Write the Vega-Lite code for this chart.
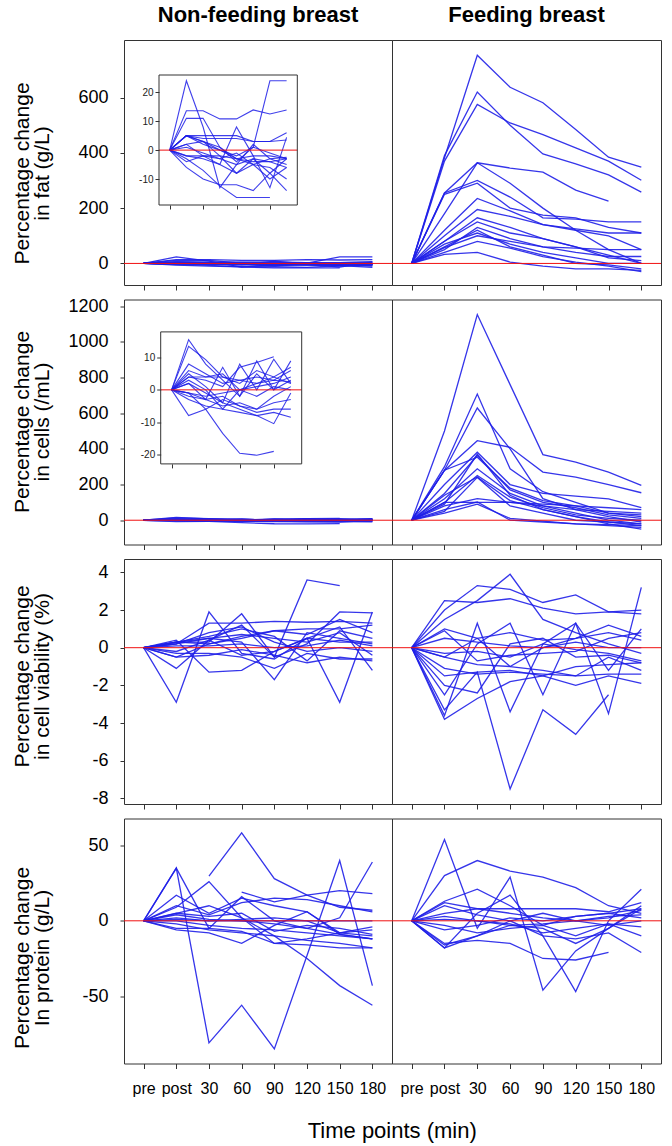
{
"$schema": "https://vega.github.io/schema/vega-lite/v6.json",
"background": "white",
"padding": {"left": 10, "top": 3, "right": 5, "bottom": 3},
"config": {"font": "Liberation Sans", "view": {"stroke": "#333333", "strokeWidth": 1}, "axis": {"labelFont": "Liberation Sans", "titleFont": "Liberation Sans", "labelColor": "#000000", "titleColor": "#000000", "tickColor": "#333333", "grid": false, "labelFlush": false, "labelOverlap": false}},
"title": {"text": "Time points (min)", "orient": "bottom", "anchor": "middle", "fontSize": 22, "fontWeight": "normal", "font": "Liberation Sans", "color": "#000000", "baseline": "alphabetic", "offset": 41, "dx": 56},
"bounds": "flush",
"columns": 2,
"spacing": {"row": 14.5, "column": 0},
"datasets": {
"fatN": [
{"s":1,"t":0,"v":0},{"s":1,"t":1,"v":24},{"s":1,"t":2,"v":8},{"s":1,"t":3,"v":-13},{"s":1,"t":4,"v":-5},{"s":1,"t":5,"v":2},{"s":1,"t":6,"v":-3},{"s":1,"t":7,"v":-5},
{"s":2,"t":0,"v":0},{"s":2,"t":1,"v":5},{"s":2,"t":2,"v":3},{"s":2,"t":3,"v":1},{"s":2,"t":4,"v":-4},{"s":2,"t":5,"v":1},{"s":2,"t":6,"v":24},{"s":2,"t":7,"v":24},
{"s":3,"t":0,"v":0},{"s":3,"t":1,"v":13.6},{"s":3,"t":2,"v":13.6},{"s":3,"t":3,"v":10.8},{"s":3,"t":4,"v":10.8},{"s":3,"t":5,"v":13.9},{"s":3,"t":6,"v":12.5},{"s":3,"t":7,"v":13.9},
{"s":4,"t":0,"v":0},{"s":4,"t":1,"v":11},{"s":4,"t":2,"v":11},{"s":4,"t":3,"v":1},{"s":4,"t":4,"v":-3},{"s":4,"t":5,"v":-5},{"s":4,"t":6,"v":-6},{"s":4,"t":7,"v":-10},
{"s":5,"t":0,"v":0},{"s":5,"t":1,"v":5},{"s":5,"t":2,"v":5},{"s":5,"t":3,"v":5},{"s":5,"t":4,"v":5},{"s":5,"t":5,"v":3},{"s":5,"t":6,"v":3},{"s":5,"t":7,"v":6},
{"s":6,"t":0,"v":0},{"s":6,"t":1,"v":5},{"s":6,"t":2,"v":4},{"s":6,"t":3,"v":4},{"s":6,"t":4,"v":4},{"s":6,"t":5,"v":3},{"s":6,"t":6,"v":3},{"s":6,"t":7,"v":3.5},
{"s":7,"t":0,"v":0},{"s":7,"t":1,"v":5},{"s":7,"t":2,"v":2},{"s":7,"t":3,"v":0},{"s":7,"t":4,"v":-3},{"s":7,"t":5,"v":-2},{"s":7,"t":6,"v":-2},{"s":7,"t":7,"v":-3},
{"s":8,"t":0,"v":0},{"s":8,"t":1,"v":5},{"s":8,"t":2,"v":3},{"s":8,"t":3,"v":-2},{"s":8,"t":4,"v":-8},{"s":8,"t":5,"v":-5},{"s":8,"t":6,"v":-3},{"s":8,"t":7,"v":-2.5},
{"s":9,"t":0,"v":0},{"s":9,"t":1,"v":2},{"s":9,"t":2,"v":-2},{"s":9,"t":3,"v":-5},{"s":9,"t":4,"v":8},{"s":9,"t":5,"v":-2},{"s":9,"t":6,"v":-13},{"s":9,"t":7,"v":4.4},
{"s":10,"t":0,"v":0},{"s":10,"t":1,"v":-3},{"s":10,"t":2,"v":-7},{"s":10,"t":3,"v":-12.4},{"s":10,"t":4,"v":-16.4},{"s":10,"t":5,"v":-16.4},{"s":10,"t":6,"v":-16.4},
{"s":11,"t":0,"v":0},{"s":11,"t":1,"v":-6},{"s":11,"t":2,"v":-10},{"s":11,"t":3,"v":-12},{"s":11,"t":4,"v":-12},{"s":11,"t":5,"v":-14},{"s":11,"t":6,"v":-8},{"s":11,"t":7,"v":-3},
{"s":12,"t":0,"v":0},{"s":12,"t":1,"v":-2},{"s":12,"t":2,"v":-3},{"s":12,"t":3,"v":-5},{"s":12,"t":4,"v":-8},{"s":12,"t":5,"v":-3},{"s":12,"t":6,"v":-8},{"s":12,"t":7,"v":-14},
{"s":13,"t":0,"v":0},{"s":13,"t":1,"v":-2},{"s":13,"t":2,"v":-2},{"s":13,"t":3,"v":-2},{"s":13,"t":4,"v":-3},{"s":13,"t":5,"v":-4},{"s":13,"t":6,"v":-4},{"s":13,"t":7,"v":-3},
{"s":14,"t":0,"v":0},{"s":14,"t":1,"v":1},{"s":14,"t":2,"v":-1},{"s":14,"t":3,"v":-3},{"s":14,"t":4,"v":-5},{"s":14,"t":5,"v":-3},{"s":14,"t":6,"v":-4},{"s":14,"t":7,"v":-6},
{"s":15,"t":0,"v":0},{"s":15,"t":1,"v":-4},{"s":15,"t":2,"v":-2},{"s":15,"t":3,"v":-3},{"s":15,"t":4,"v":-1},{"s":15,"t":5,"v":-5},{"s":15,"t":6,"v":-10},{"s":15,"t":7,"v":-6},
{"s":16,"t":0,"v":0},{"s":16,"t":1,"v":2},{"s":16,"t":2,"v":3},{"s":16,"t":3,"v":0},{"s":16,"t":4,"v":-2},{"s":16,"t":5,"v":1},{"s":16,"t":6,"v":-1},{"s":16,"t":7,"v":-3}
],
"fatF": [
{"s":1,"t":0,"v":0},{"s":1,"t":1,"v":382},{"s":1,"t":2,"v":753},{"s":1,"t":3,"v":637},{"s":1,"t":4,"v":581},{"s":1,"t":5,"v":484},{"s":1,"t":6,"v":384},{"s":1,"t":7,"v":348},
{"s":2,"t":0,"v":0},{"s":2,"t":1,"v":390},{"s":2,"t":2,"v":620},{"s":2,"t":3,"v":500},{"s":2,"t":4,"v":396},{"s":2,"t":5,"v":360},{"s":2,"t":6,"v":320},{"s":2,"t":7,"v":258},
{"s":3,"t":0,"v":0},{"s":3,"t":1,"v":370},{"s":3,"t":2,"v":575},{"s":3,"t":3,"v":508},{"s":3,"t":4,"v":466},{"s":3,"t":5,"v":418},{"s":3,"t":6,"v":370},{"s":3,"t":7,"v":301},
{"s":4,"t":0,"v":0},{"s":4,"t":1,"v":255},{"s":4,"t":2,"v":364},{"s":4,"t":3,"v":345},{"s":4,"t":4,"v":330},{"s":4,"t":5,"v":265},{"s":4,"t":6,"v":225},
{"s":5,"t":0,"v":0},{"s":5,"t":1,"v":180},{"s":5,"t":2,"v":364},{"s":5,"t":3,"v":290},{"s":5,"t":4,"v":200},{"s":5,"t":5,"v":120},{"s":5,"t":6,"v":50},{"s":5,"t":7,"v":0},
{"s":6,"t":0,"v":0},{"s":6,"t":1,"v":255},{"s":6,"t":2,"v":300},{"s":6,"t":3,"v":240},{"s":6,"t":4,"v":165},{"s":6,"t":5,"v":160},{"s":6,"t":6,"v":150},{"s":6,"t":7,"v":150},
{"s":7,"t":0,"v":0},{"s":7,"t":1,"v":250},{"s":7,"t":2,"v":290},{"s":7,"t":3,"v":200},{"s":7,"t":4,"v":175},{"s":7,"t":5,"v":165},{"s":7,"t":6,"v":130},{"s":7,"t":7,"v":110},
{"s":8,"t":0,"v":0},{"s":8,"t":1,"v":120},{"s":8,"t":2,"v":235},{"s":8,"t":3,"v":190},{"s":8,"t":4,"v":140},{"s":8,"t":5,"v":120},{"s":8,"t":6,"v":100},{"s":8,"t":7,"v":50},
{"s":9,"t":0,"v":0},{"s":9,"t":1,"v":100},{"s":9,"t":2,"v":195},{"s":9,"t":3,"v":170},{"s":9,"t":4,"v":140},{"s":9,"t":5,"v":125},{"s":9,"t":6,"v":110},{"s":9,"t":7,"v":110},
{"s":10,"t":0,"v":0},{"s":10,"t":1,"v":80},{"s":10,"t":2,"v":165},{"s":10,"t":3,"v":130},{"s":10,"t":4,"v":90},{"s":10,"t":5,"v":60},{"s":10,"t":6,"v":20},{"s":10,"t":7,"v":10},
{"s":11,"t":0,"v":0},{"s":11,"t":1,"v":80},{"s":11,"t":2,"v":150},{"s":11,"t":3,"v":110},{"s":11,"t":4,"v":90},{"s":11,"t":5,"v":60},{"s":11,"t":6,"v":30},{"s":11,"t":7,"v":0},
{"s":12,"t":0,"v":0},{"s":12,"t":1,"v":60},{"s":12,"t":2,"v":120},{"s":12,"t":3,"v":60},{"s":12,"t":4,"v":30},{"s":12,"t":5,"v":0},{"s":12,"t":6,"v":-5},{"s":12,"t":7,"v":-20},
{"s":13,"t":0,"v":0},{"s":13,"t":1,"v":70},{"s":13,"t":2,"v":110},{"s":13,"t":3,"v":70},{"s":13,"t":4,"v":40},{"s":13,"t":5,"v":20},{"s":13,"t":6,"v":0},{"s":13,"t":7,"v":0},
{"s":14,"t":0,"v":0},{"s":14,"t":1,"v":57},{"s":14,"t":2,"v":100},{"s":14,"t":3,"v":80},{"s":14,"t":4,"v":60},{"s":14,"t":5,"v":55},{"s":14,"t":6,"v":50},{"s":14,"t":7,"v":50},
{"s":15,"t":0,"v":0},{"s":15,"t":1,"v":40},{"s":15,"t":2,"v":80},{"s":15,"t":3,"v":55},{"s":15,"t":4,"v":25},{"s":15,"t":5,"v":5},{"s":15,"t":6,"v":-10},{"s":15,"t":7,"v":-30},
{"s":16,"t":0,"v":0},{"s":16,"t":1,"v":33},{"s":16,"t":2,"v":40},{"s":16,"t":3,"v":5},{"s":16,"t":4,"v":-10},{"s":16,"t":5,"v":-20},{"s":16,"t":6,"v":-20},{"s":16,"t":7,"v":-25},
{"s":17,"t":0,"v":0},{"s":17,"t":1,"v":50},{"s":17,"t":2,"v":130},{"s":17,"t":3,"v":90},{"s":17,"t":4,"v":60},{"s":17,"t":5,"v":40},{"s":17,"t":6,"v":25},{"s":17,"t":7,"v":25}
],
"celN": [
{"s":1,"t":0,"v":0},{"s":1,"t":1,"v":15.6},{"s":1,"t":2,"v":8},{"s":1,"t":3,"v":3},{"s":1,"t":4,"v":-2},{"s":1,"t":5,"v":5},{"s":1,"t":6,"v":0},{"s":1,"t":7,"v":3},
{"s":2,"t":0,"v":0},{"s":2,"t":1,"v":13.5},{"s":2,"t":2,"v":9.4},{"s":2,"t":3,"v":4},{"s":2,"t":4,"v":2},{"s":2,"t":5,"v":6},{"s":2,"t":6,"v":4},{"s":2,"t":7,"v":7},
{"s":3,"t":0,"v":0},{"s":3,"t":1,"v":-1},{"s":3,"t":2,"v":-6},{"s":3,"t":3,"v":-13.5},{"s":3,"t":4,"v":-19.7},{"s":3,"t":5,"v":-20.3},{"s":3,"t":6,"v":-19.1},
{"s":4,"t":0,"v":0},{"s":4,"t":1,"v":4},{"s":4,"t":2,"v":3},{"s":4,"t":3,"v":1},{"s":4,"t":4,"v":7},{"s":4,"t":5,"v":8.5},{"s":4,"t":6,"v":10.3},
{"s":5,"t":0,"v":0},{"s":5,"t":1,"v":5},{"s":5,"t":2,"v":1},{"s":5,"t":3,"v":-4},{"s":5,"t":4,"v":8},{"s":5,"t":5,"v":0},{"s":5,"t":6,"v":9.5},{"s":5,"t":7,"v":2},
{"s":6,"t":0,"v":0},{"s":6,"t":1,"v":2},{"s":6,"t":2,"v":-3},{"s":6,"t":3,"v":7},{"s":6,"t":4,"v":-2},{"s":6,"t":5,"v":9},{"s":6,"t":6,"v":0},{"s":6,"t":7,"v":9},
{"s":7,"t":0,"v":0},{"s":7,"t":1,"v":8},{"s":7,"t":2,"v":5},{"s":7,"t":3,"v":2},{"s":7,"t":4,"v":3},{"s":7,"t":5,"v":4},{"s":7,"t":6,"v":3},{"s":7,"t":7,"v":6},
{"s":8,"t":0,"v":0},{"s":8,"t":1,"v":4},{"s":8,"t":2,"v":4},{"s":8,"t":3,"v":4},{"s":8,"t":4,"v":3},{"s":8,"t":5,"v":2},{"s":8,"t":6,"v":4},{"s":8,"t":7,"v":2},
{"s":9,"t":0,"v":0},{"s":9,"t":1,"v":-1},{"s":9,"t":2,"v":-2},{"s":9,"t":3,"v":-1},{"s":9,"t":4,"v":0},{"s":9,"t":5,"v":-2},{"s":9,"t":6,"v":1},{"s":9,"t":7,"v":0},
{"s":10,"t":0,"v":0},{"s":10,"t":1,"v":-2},{"s":10,"t":2,"v":-3},{"s":10,"t":3,"v":-5},{"s":10,"t":4,"v":-4},{"s":10,"t":5,"v":-6},{"s":10,"t":6,"v":-2},{"s":10,"t":7,"v":1},
{"s":11,"t":0,"v":0},{"s":11,"t":1,"v":-8},{"s":11,"t":2,"v":-6},{"s":11,"t":3,"v":-3},{"s":11,"t":4,"v":-5},{"s":11,"t":5,"v":-7},{"s":11,"t":6,"v":-6},{"s":11,"t":7,"v":-6},
{"s":12,"t":0,"v":0},{"s":12,"t":1,"v":-3},{"s":12,"t":2,"v":-5},{"s":12,"t":3,"v":-6},{"s":12,"t":4,"v":-7},{"s":12,"t":5,"v":-8},{"s":12,"t":6,"v":-7},{"s":12,"t":7,"v":-8.5},
{"s":13,"t":0,"v":0},{"s":13,"t":1,"v":2},{"s":13,"t":2,"v":-1},{"s":13,"t":3,"v":-4},{"s":13,"t":4,"v":-6},{"s":13,"t":5,"v":-8},{"s":13,"t":6,"v":-10.5},{"s":13,"t":7,"v":-1},
{"s":14,"t":0,"v":0},{"s":14,"t":1,"v":-1},{"s":14,"t":2,"v":-3},{"s":14,"t":3,"v":-2},{"s":14,"t":4,"v":-5},{"s":14,"t":5,"v":-6},{"s":14,"t":6,"v":-4},{"s":14,"t":7,"v":-3},
{"s":15,"t":0,"v":0},{"s":15,"t":1,"v":6},{"s":15,"t":2,"v":4},{"s":15,"t":3,"v":5},{"s":15,"t":4,"v":0},{"s":15,"t":5,"v":2},{"s":15,"t":6,"v":3},{"s":15,"t":7,"v":2.5},
{"s":16,"t":0,"v":0},{"s":16,"t":1,"v":3},{"s":16,"t":2,"v":0},{"s":16,"t":3,"v":-6},{"s":16,"t":4,"v":0},{"s":16,"t":5,"v":1},{"s":16,"t":6,"v":2},{"s":16,"t":7,"v":4}
],
"celF": [
{"s":1,"t":0,"v":0},{"s":1,"t":1,"v":500},{"s":1,"t":2,"v":1153},{"s":1,"t":3,"v":760},{"s":1,"t":4,"v":368},{"s":1,"t":5,"v":325},{"s":1,"t":6,"v":270},{"s":1,"t":7,"v":195},
{"s":2,"t":0,"v":0},{"s":2,"t":1,"v":300},{"s":2,"t":2,"v":707},{"s":2,"t":3,"v":288},{"s":2,"t":4,"v":160},{"s":2,"t":5,"v":100},{"s":2,"t":6,"v":40},{"s":2,"t":7,"v":20},
{"s":3,"t":0,"v":0},{"s":3,"t":1,"v":280},{"s":3,"t":2,"v":629},{"s":3,"t":3,"v":400},{"s":3,"t":4,"v":121},{"s":3,"t":5,"v":60},{"s":3,"t":6,"v":20},{"s":3,"t":7,"v":-10},
{"s":4,"t":0,"v":0},{"s":4,"t":1,"v":279},{"s":4,"t":2,"v":446},{"s":4,"t":3,"v":409},{"s":4,"t":4,"v":270},{"s":4,"t":5,"v":242},{"s":4,"t":6,"v":200},{"s":4,"t":7,"v":154},
{"s":5,"t":0,"v":0},{"s":5,"t":1,"v":200},{"s":5,"t":2,"v":381},{"s":5,"t":3,"v":200},{"s":5,"t":4,"v":150},{"s":5,"t":5,"v":135},{"s":5,"t":6,"v":120},{"s":5,"t":7,"v":70},
{"s":6,"t":0,"v":0},{"s":6,"t":1,"v":150},{"s":6,"t":2,"v":363},{"s":6,"t":3,"v":170},{"s":6,"t":4,"v":100},{"s":6,"t":5,"v":70},{"s":6,"t":6,"v":30},{"s":6,"t":7,"v":10},
{"s":7,"t":0,"v":0},{"s":7,"t":1,"v":280},{"s":7,"t":2,"v":353},{"s":7,"t":3,"v":180},{"s":7,"t":4,"v":110},{"s":7,"t":5,"v":80},{"s":7,"t":6,"v":40},{"s":7,"t":7,"v":30},
{"s":8,"t":0,"v":0},{"s":8,"t":1,"v":120},{"s":8,"t":2,"v":288},{"s":8,"t":3,"v":150},{"s":8,"t":4,"v":80},{"s":8,"t":5,"v":40},{"s":8,"t":6,"v":0},{"s":8,"t":7,"v":-20},
{"s":9,"t":0,"v":0},{"s":9,"t":1,"v":100},{"s":9,"t":2,"v":251},{"s":9,"t":3,"v":130},{"s":9,"t":4,"v":70},{"s":9,"t":5,"v":30},{"s":9,"t":6,"v":10},{"s":9,"t":7,"v":0},
{"s":10,"t":0,"v":0},{"s":10,"t":1,"v":140},{"s":10,"t":2,"v":242},{"s":10,"t":3,"v":110},{"s":10,"t":4,"v":60},{"s":10,"t":5,"v":20},{"s":10,"t":6,"v":-10},{"s":10,"t":7,"v":-20},
{"s":11,"t":0,"v":0},{"s":11,"t":1,"v":80},{"s":11,"t":2,"v":121},{"s":11,"t":3,"v":100},{"s":11,"t":4,"v":80},{"s":11,"t":5,"v":60},{"s":11,"t":6,"v":50},{"s":11,"t":7,"v":40},
{"s":12,"t":0,"v":0},{"s":12,"t":1,"v":60},{"s":12,"t":2,"v":102},{"s":12,"t":3,"v":0},{"s":12,"t":4,"v":-10},{"s":12,"t":5,"v":-20},{"s":12,"t":6,"v":-30},{"s":12,"t":7,"v":-40},
{"s":13,"t":0,"v":0},{"s":13,"t":1,"v":100},{"s":13,"t":2,"v":100},{"s":13,"t":3,"v":100},{"s":13,"t":4,"v":90},{"s":13,"t":5,"v":80},{"s":13,"t":6,"v":70},{"s":13,"t":7,"v":60},
{"s":14,"t":0,"v":0},{"s":14,"t":1,"v":50},{"s":14,"t":2,"v":240},{"s":14,"t":3,"v":80},{"s":14,"t":4,"v":40},{"s":14,"t":5,"v":0},{"s":14,"t":6,"v":-10},{"s":14,"t":7,"v":-30},
{"s":15,"t":0,"v":0},{"s":15,"t":1,"v":90},{"s":15,"t":2,"v":370},{"s":15,"t":3,"v":140},{"s":15,"t":4,"v":60},{"s":15,"t":5,"v":20},{"s":15,"t":6,"v":-20},{"s":15,"t":7,"v":-50},
{"s":16,"t":0,"v":0},{"s":16,"t":1,"v":40},{"s":16,"t":2,"v":90},{"s":16,"t":3,"v":10},{"s":16,"t":4,"v":-5},{"s":16,"t":5,"v":-20},{"s":16,"t":6,"v":-25},{"s":16,"t":7,"v":-30}
],
"viaN": [
{"s":1,"t":0,"v":0},{"s":1,"t":1,"v":-2.9},{"s":1,"t":2,"v":1.9},{"s":1,"t":3,"v":-0.3},{"s":1,"t":4,"v":-0.6},{"s":1,"t":5,"v":0.5},{"s":1,"t":6,"v":-2.9},{"s":1,"t":7,"v":1.9},
{"s":2,"t":0,"v":0},{"s":2,"t":1,"v":0.3},{"s":2,"t":2,"v":0.3},{"s":2,"t":3,"v":1.8},{"s":2,"t":4,"v":-0.5},{"s":2,"t":5,"v":3.6},{"s":2,"t":6,"v":3.3},
{"s":3,"t":0,"v":0},{"s":3,"t":1,"v":-1.1},{"s":3,"t":2,"v":0.4},{"s":3,"t":3,"v":1.2},{"s":3,"t":4,"v":-0.5},{"s":3,"t":5,"v":0.2},{"s":3,"t":6,"v":1.9},{"s":3,"t":7,"v":1.85},
{"s":4,"t":0,"v":0},{"s":4,"t":1,"v":0.4},{"s":4,"t":2,"v":-1.3},{"s":4,"t":3,"v":-1.2},{"s":4,"t":4,"v":-0.2},{"s":4,"t":5,"v":0.5},{"s":4,"t":6,"v":1.1},{"s":4,"t":7,"v":-1.2},
{"s":5,"t":0,"v":0},{"s":5,"t":1,"v":0.2},{"s":5,"t":2,"v":1.3},{"s":5,"t":3,"v":1.3},{"s":5,"t":4,"v":1.4},{"s":5,"t":5,"v":1.35},{"s":5,"t":6,"v":1.4},{"s":5,"t":7,"v":1.3},
{"s":6,"t":0,"v":0},{"s":6,"t":1,"v":0.3},{"s":6,"t":2,"v":0.6},{"s":6,"t":3,"v":1.0},{"s":6,"t":4,"v":0.6},{"s":6,"t":5,"v":-0.7},{"s":6,"t":6,"v":0.9},{"s":6,"t":7,"v":0.5},
{"s":7,"t":0,"v":0},{"s":7,"t":1,"v":0.2},{"s":7,"t":2,"v":0.5},{"s":7,"t":3,"v":0.3},{"s":7,"t":4,"v":-1.7},{"s":7,"t":5,"v":0.8},{"s":7,"t":6,"v":0.5},{"s":7,"t":7,"v":0.2},
{"s":8,"t":0,"v":0},{"s":8,"t":1,"v":-0.5},{"s":8,"t":2,"v":0.2},{"s":8,"t":3,"v":0.5},{"s":8,"t":4,"v":0.9},{"s":8,"t":5,"v":0.7},{"s":8,"t":6,"v":1.5},{"s":8,"t":7,"v":0.8},
{"s":9,"t":0,"v":0},{"s":9,"t":1,"v":-0.3},{"s":9,"t":2,"v":-0.3},{"s":9,"t":3,"v":-0.5},{"s":9,"t":4,"v":-1.1},{"s":9,"t":5,"v":-0.3},{"s":9,"t":6,"v":-0.6},{"s":9,"t":7,"v":-0.6},
{"s":10,"t":0,"v":0},{"s":10,"t":1,"v":0.1},{"s":10,"t":2,"v":0.1},{"s":10,"t":3,"v":0.2},{"s":10,"t":4,"v":0},{"s":10,"t":5,"v":0.1},{"s":10,"t":6,"v":0.4},{"s":10,"t":7,"v":0.1},
{"s":11,"t":0,"v":0},{"s":11,"t":1,"v":-0.2},{"s":11,"t":2,"v":0.4},{"s":11,"t":3,"v":-0.4},{"s":11,"t":4,"v":-0.2},{"s":11,"t":5,"v":0.5},{"s":11,"t":6,"v":0.3},{"s":11,"t":7,"v":0.3},
{"s":12,"t":0,"v":0},{"s":12,"t":1,"v":0.3},{"s":12,"t":2,"v":0.5},{"s":12,"t":3,"v":0.7},{"s":12,"t":4,"v":0.5},{"s":12,"t":5,"v":0.3},{"s":12,"t":6,"v":0.8},{"s":12,"t":7,"v":-0.4},
{"s":13,"t":0,"v":0},{"s":13,"t":1,"v":-0.5},{"s":13,"t":2,"v":-0.4},{"s":13,"t":3,"v":-0.1},{"s":13,"t":4,"v":-0.4},{"s":13,"t":5,"v":-0.8},{"s":13,"t":6,"v":-0.5},{"s":13,"t":7,"v":-0.7},
{"s":14,"t":0,"v":0},{"s":14,"t":1,"v":0.2},{"s":14,"t":2,"v":0.8},{"s":14,"t":3,"v":1.1},{"s":14,"t":4,"v":0.3},{"s":14,"t":5,"v":-0.2},{"s":14,"t":6,"v":0},{"s":14,"t":7,"v":-0.2},
{"s":15,"t":0,"v":0},{"s":15,"t":1,"v":0.3},{"s":15,"t":2,"v":0.2},{"s":15,"t":3,"v":0.6},{"s":15,"t":4,"v":0.9},{"s":15,"t":5,"v":1.0},{"s":15,"t":6,"v":1.0},{"s":15,"t":7,"v":1.2}
],
"viaF": [
{"s":1,"t":0,"v":0},{"s":1,"t":1,"v":1.5},{"s":1,"t":2,"v":2.5},{"s":1,"t":3,"v":3.9},{"s":1,"t":4,"v":1.5},{"s":1,"t":5,"v":0.8},{"s":1,"t":6,"v":0.2},{"s":1,"t":7,"v":-0.3},
{"s":2,"t":0,"v":0},{"s":2,"t":1,"v":2.0},{"s":2,"t":2,"v":3.3},{"s":2,"t":3,"v":3.1},{"s":2,"t":4,"v":2.4},{"s":2,"t":5,"v":2.8},{"s":2,"t":6,"v":1.9},{"s":2,"t":7,"v":2.0},
{"s":3,"t":0,"v":0},{"s":3,"t":1,"v":2.5},{"s":3,"t":2,"v":2.4},{"s":3,"t":3,"v":2.6},{"s":3,"t":4,"v":2.1},{"s":3,"t":5,"v":1.8},{"s":3,"t":6,"v":1.9},{"s":3,"t":7,"v":1.8},
{"s":4,"t":0,"v":0},{"s":4,"t":1,"v":-3.6},{"s":4,"t":2,"v":1.3},{"s":4,"t":3,"v":-3.4},{"s":4,"t":4,"v":0.2},{"s":4,"t":5,"v":1.3},{"s":4,"t":6,"v":-3.5},{"s":4,"t":7,"v":3.2},
{"s":5,"t":0,"v":0},{"s":5,"t":1,"v":-3.3},{"s":5,"t":2,"v":-1.3},{"s":5,"t":3,"v":-7.5},{"s":5,"t":4,"v":-3.3},{"s":5,"t":5,"v":-4.6},{"s":5,"t":6,"v":-2.5},
{"s":6,"t":0,"v":0},{"s":6,"t":1,"v":-2.5},{"s":6,"t":2,"v":0.2},{"s":6,"t":3,"v":1.3},{"s":6,"t":4,"v":-2.5},{"s":6,"t":5,"v":1.3},{"s":6,"t":6,"v":-1.2},{"s":6,"t":7,"v":1.0},
{"s":7,"t":0,"v":0},{"s":7,"t":1,"v":1.0},{"s":7,"t":2,"v":0.5},{"s":7,"t":3,"v":-1.0},{"s":7,"t":4,"v":0},{"s":7,"t":5,"v":0.5},{"s":7,"t":6,"v":1.2},{"s":7,"t":7,"v":0.6},
{"s":8,"t":0,"v":0},{"s":8,"t":1,"v":-1.5},{"s":8,"t":2,"v":-1.3},{"s":8,"t":3,"v":-1.2},{"s":8,"t":4,"v":-1.5},{"s":8,"t":5,"v":-2.0},{"s":8,"t":6,"v":-1.5},{"s":8,"t":7,"v":-1.9},
{"s":9,"t":0,"v":0},{"s":9,"t":1,"v":-0.5},{"s":9,"t":2,"v":-0.9},{"s":9,"t":3,"v":-1.0},{"s":9,"t":4,"v":-1.2},{"s":9,"t":5,"v":-1.5},{"s":9,"t":6,"v":-1.4},{"s":9,"t":7,"v":-1.4},
{"s":10,"t":0,"v":0},{"s":10,"t":1,"v":-1.1},{"s":10,"t":2,"v":-1.4},{"s":10,"t":3,"v":-1.3},{"s":10,"t":4,"v":-1.4},{"s":10,"t":5,"v":-1.5},{"s":10,"t":6,"v":-0.5},{"s":10,"t":7,"v":-1.2},
{"s":11,"t":0,"v":0},{"s":11,"t":1,"v":0.5},{"s":11,"t":2,"v":0.3},{"s":11,"t":3,"v":0.1},{"s":11,"t":4,"v":0},{"s":11,"t":5,"v":0.3},{"s":11,"t":6,"v":0},{"s":11,"t":7,"v":0},
{"s":12,"t":0,"v":0},{"s":12,"t":1,"v":-2.0},{"s":12,"t":2,"v":-2.4},{"s":12,"t":3,"v":0.2},{"s":12,"t":4,"v":0.5},{"s":12,"t":5,"v":-0.5},{"s":12,"t":6,"v":-0.4},{"s":12,"t":7,"v":-0.8},
{"s":13,"t":0,"v":0},{"s":13,"t":1,"v":-0.5},{"s":13,"t":2,"v":0.5},{"s":13,"t":3,"v":0.8},{"s":13,"t":4,"v":0.4},{"s":13,"t":5,"v":0.5},{"s":13,"t":6,"v":0.8},{"s":13,"t":7,"v":0.4},
{"s":14,"t":0,"v":0},{"s":14,"t":1,"v":0.9},{"s":14,"t":2,"v":-0.7},{"s":14,"t":3,"v":-0.4},{"s":14,"t":4,"v":-0.3},{"s":14,"t":5,"v":-0.2},{"s":14,"t":6,"v":0.5},{"s":14,"t":7,"v":0.8},
{"s":15,"t":0,"v":0},{"s":15,"t":1,"v":-0.3},{"s":15,"t":2,"v":-0.2},{"s":15,"t":3,"v":-0.5},{"s":15,"t":4,"v":0.2},{"s":15,"t":5,"v":-0.1},{"s":15,"t":6,"v":-0.3},{"s":15,"t":7,"v":-0.7},
{"s":16,"t":0,"v":0},{"s":16,"t":1,"v":-3.8},{"s":16,"t":2,"v":-2.7},{"s":16,"t":3,"v":-1.8},{"s":16,"t":4,"v":-1.5},{"s":16,"t":5,"v":-1.0},{"s":16,"t":6,"v":-0.9},{"s":16,"t":7,"v":-0.8}
],
"proN": [
{"s":1,"t":0,"v":0},{"s":1,"t":1,"v":35},{"s":1,"t":2,"v":-81},{"s":1,"t":3,"v":-56},{"s":1,"t":4,"v":-85},{"s":1,"t":5,"v":-23},{"s":1,"t":6,"v":40},{"s":1,"t":7,"v":-43},
{"s":2,"t":0,"v":0},{"s":2,"t":1,"v":35},{"s":2,"t":2,"v":-5},{"s":2,"t":3,"v":16},{"s":2,"t":4,"v":0},{"s":2,"t":5,"v":-5},{"s":2,"t":6,"v":2},{"s":2,"t":7,"v":39},
{"s":3,"t":2,"v":29.6},{"s":3,"t":3,"v":58.4},{"s":3,"t":4,"v":28},{"s":3,"t":5,"v":17},{"s":3,"t":6,"v":9},{"s":3,"t":7,"v":7},
{"s":4,"t":0,"v":0},{"s":4,"t":1,"v":17},{"s":4,"t":2,"v":5},{"s":4,"t":3,"v":15},{"s":4,"t":4,"v":10},{"s":4,"t":5,"v":6},{"s":4,"t":6,"v":-8},{"s":4,"t":7,"v":-4},
{"s":5,"t":3,"v":19},{"s":5,"t":4,"v":12.6},{"s":5,"t":5,"v":17},{"s":5,"t":6,"v":20},{"s":5,"t":7,"v":18},
{"s":6,"t":0,"v":0},{"s":6,"t":1,"v":9},{"s":6,"t":2,"v":26},{"s":6,"t":3,"v":2},{"s":6,"t":4,"v":-15},{"s":6,"t":5,"v":-12},{"s":6,"t":6,"v":-8},{"s":6,"t":7,"v":-10},
{"s":7,"t":0,"v":0},{"s":7,"t":1,"v":-6},{"s":7,"t":2,"v":-8},{"s":7,"t":3,"v":-15},{"s":7,"t":4,"v":-3},{"s":7,"t":5,"v":6},{"s":7,"t":6,"v":-9},{"s":7,"t":7,"v":-12},
{"s":8,"t":0,"v":0},{"s":8,"t":1,"v":5},{"s":8,"t":2,"v":10},{"s":8,"t":3,"v":2},{"s":8,"t":4,"v":-10},{"s":8,"t":5,"v":-25},{"s":8,"t":6,"v":-43},{"s":8,"t":7,"v":-56},
{"s":9,"t":0,"v":0},{"s":9,"t":1,"v":2},{"s":9,"t":2,"v":0},{"s":9,"t":3,"v":1},{"s":9,"t":4,"v":2},{"s":9,"t":5,"v":0},{"s":9,"t":6,"v":-8},{"s":9,"t":7,"v":-6},
{"s":10,"t":0,"v":0},{"s":10,"t":1,"v":-2},{"s":10,"t":2,"v":-6},{"s":10,"t":3,"v":-8},{"s":10,"t":4,"v":-10},{"s":10,"t":5,"v":-13},{"s":10,"t":6,"v":-15},{"s":10,"t":7,"v":-18},
{"s":11,"t":0,"v":0},{"s":11,"t":1,"v":0},{"s":11,"t":2,"v":-3},{"s":11,"t":3,"v":-5},{"s":11,"t":4,"v":-6},{"s":11,"t":5,"v":-8},{"s":11,"t":6,"v":-10},{"s":11,"t":7,"v":-12},
{"s":12,"t":0,"v":0},{"s":12,"t":1,"v":4},{"s":12,"t":2,"v":1},{"s":12,"t":3,"v":0},{"s":12,"t":4,"v":-2},{"s":12,"t":5,"v":-5},{"s":12,"t":6,"v":-9},{"s":12,"t":7,"v":-12},
{"s":13,"t":0,"v":0},{"s":13,"t":1,"v":5},{"s":13,"t":2,"v":3},{"s":13,"t":3,"v":5},{"s":13,"t":4,"v":-7},{"s":13,"t":5,"v":-3},{"s":13,"t":6,"v":-5},{"s":13,"t":7,"v":-9},
{"s":14,"t":0,"v":0},{"s":14,"t":1,"v":-5},{"s":14,"t":2,"v":-5},{"s":14,"t":3,"v":-7},{"s":14,"t":4,"v":-15},{"s":14,"t":5,"v":-16},{"s":14,"t":6,"v":-18},{"s":14,"t":7,"v":-18},
{"s":15,"t":0,"v":0},{"s":15,"t":1,"v":1},{"s":15,"t":2,"v":0},{"s":15,"t":3,"v":0},{"s":15,"t":4,"v":0},{"s":15,"t":5,"v":0},{"s":15,"t":6,"v":0},{"s":15,"t":7,"v":0},
{"s":16,"t":0,"v":0},{"s":16,"t":1,"v":10},{"s":16,"t":2,"v":4},{"s":16,"t":3,"v":12},{"s":16,"t":4,"v":15},{"s":16,"t":5,"v":14},{"s":16,"t":6,"v":10},{"s":16,"t":7,"v":6}
],
"proF": [
{"s":1,"t":0,"v":0},{"s":1,"t":1,"v":54},{"s":1,"t":2,"v":-5},{"s":1,"t":3,"v":29},{"s":1,"t":4,"v":-46},{"s":1,"t":5,"v":-20},{"s":1,"t":6,"v":-5},{"s":1,"t":7,"v":10},
{"s":2,"t":0,"v":0},{"s":2,"t":1,"v":-18},{"s":2,"t":2,"v":5},{"s":2,"t":3,"v":17},{"s":2,"t":4,"v":-10},{"s":2,"t":5,"v":-47},{"s":2,"t":6,"v":0},{"s":2,"t":7,"v":21},
{"s":3,"t":0,"v":0},{"s":3,"t":1,"v":30},{"s":3,"t":2,"v":40},{"s":3,"t":3,"v":33},{"s":3,"t":4,"v":29},{"s":3,"t":5,"v":22},{"s":3,"t":6,"v":10},{"s":3,"t":7,"v":5},
{"s":4,"t":0,"v":0},{"s":4,"t":1,"v":13},{"s":4,"t":2,"v":21},{"s":4,"t":3,"v":10},{"s":4,"t":4,"v":-3},{"s":4,"t":5,"v":3},{"s":4,"t":6,"v":5},{"s":4,"t":7,"v":8},
{"s":5,"t":0,"v":0},{"s":5,"t":1,"v":-15},{"s":5,"t":2,"v":-13},{"s":5,"t":3,"v":-15},{"s":5,"t":4,"v":-25},{"s":5,"t":5,"v":-26},{"s":5,"t":6,"v":-21},
{"s":6,"t":0,"v":0},{"s":6,"t":1,"v":12},{"s":6,"t":2,"v":8},{"s":6,"t":3,"v":5},{"s":6,"t":4,"v":2},{"s":6,"t":5,"v":0},{"s":6,"t":6,"v":3},{"s":6,"t":7,"v":4},
{"s":7,"t":0,"v":0},{"s":7,"t":1,"v":-18},{"s":7,"t":2,"v":-10},{"s":7,"t":3,"v":0},{"s":7,"t":4,"v":-10},{"s":7,"t":5,"v":-12},{"s":7,"t":6,"v":-8},{"s":7,"t":7,"v":-21},
{"s":8,"t":0,"v":0},{"s":8,"t":1,"v":-16},{"s":8,"t":2,"v":-10},{"s":8,"t":3,"v":-3},{"s":8,"t":4,"v":-5},{"s":8,"t":5,"v":-15},{"s":8,"t":6,"v":-5},{"s":8,"t":7,"v":8},
{"s":9,"t":0,"v":0},{"s":9,"t":1,"v":5},{"s":9,"t":2,"v":8},{"s":9,"t":3,"v":8},{"s":9,"t":4,"v":8},{"s":9,"t":5,"v":8},{"s":9,"t":6,"v":6},{"s":9,"t":7,"v":12},
{"s":10,"t":0,"v":0},{"s":10,"t":1,"v":3},{"s":10,"t":2,"v":0},{"s":10,"t":3,"v":-3},{"s":10,"t":4,"v":-2},{"s":10,"t":5,"v":0},{"s":10,"t":6,"v":2},{"s":10,"t":7,"v":7},
{"s":11,"t":0,"v":0},{"s":11,"t":1,"v":-3},{"s":11,"t":2,"v":-8},{"s":11,"t":3,"v":-5},{"s":11,"t":4,"v":-3},{"s":11,"t":5,"v":-10},{"s":11,"t":6,"v":-2},{"s":11,"t":7,"v":-10},
{"s":12,"t":0,"v":0},{"s":12,"t":1,"v":10},{"s":12,"t":2,"v":4},{"s":12,"t":3,"v":0},{"s":12,"t":4,"v":5},{"s":12,"t":5,"v":0},{"s":12,"t":6,"v":-3},{"s":12,"t":7,"v":0},
{"s":13,"t":0,"v":0},{"s":13,"t":1,"v":1},{"s":13,"t":2,"v":0},{"s":13,"t":3,"v":-2},{"s":13,"t":4,"v":-8},{"s":13,"t":5,"v":-5},{"s":13,"t":6,"v":-2},{"s":13,"t":7,"v":-4},
{"s":14,"t":0,"v":0},{"s":14,"t":1,"v":-6},{"s":14,"t":2,"v":-3},{"s":14,"t":3,"v":2},{"s":14,"t":4,"v":0},{"s":14,"t":5,"v":3},{"s":14,"t":6,"v":5},{"s":14,"t":7,"v":2}
]
},
"concat": [
 {"width": 268, "height": 245,
  "title": {"text": "Non-feeding breast", "fontSize": 22, "fontWeight": "bold", "font": "Liberation Sans", "anchor": "middle", "frame": "group", "baseline": "alphabetic", "offset": 18, "dy": 22, "color": "#000000"},
  "layer": [
   {"layer": [
    {"data": {"name": "fatN"}, "mark": {"type": "line", "color": "#1f1fe8", "strokeWidth": 1.3, "opacity": 0.9},
     "encoding": {
      "x": {"field": "t", "type": "quantitative", "scale": {"domain": [-0.6, 7.6], "nice": false, "zero": false}, "axis": {"values": [0,1,2,3,4,5,6,7], "labels": false, "tickSize": 5, "domain": false, "title": null}},
      "y": {"field": "v", "type": "quantitative", "scale": {"domain": [-78, 808], "nice": false, "zero": false}, "axis": {"values": [0,200,400,600], "labelExpr": "datum.value + ''", "labelFontSize": 18, "tickSize": 4, "labelPadding": 12, "domain": false, "title": ["Percentage change", "in fat (g/L)"], "titleFontSize": 21, "titleFontWeight": "normal", "titleAngle": -90, "titleX": -102, "titleY": 133, "titleAlign": "center", "titleBaseline": "middle", "titleLineHeight": 20}},
      "detail": {"field": "s", "type": "nominal"}}},
    {"data": {"values": [{}]}, "mark": {"type": "rule", "color": "#f01010", "strokeWidth": 1}, "encoding": {"y": {"datum": 0}}}
   ]},
   {"layer": [
    {"data": {"name": "fatN"}, "mark": {"type": "line", "color": "#1f1fe8", "strokeWidth": 1.1, "opacity": 0.85},
     "encoding": {
      "x": {"field": "t", "type": "quantitative", "scale": {"domain": [-0.64, 7.64], "range": [35, 173.3], "nice": false, "zero": false}, "axis": {"orient": "bottom", "offset": -80, "values": [0,1,2,3,4,5,6,7], "labels": false, "tickSize": 4, "domain": false, "title": null}},
      "y": {"field": "v", "type": "quantitative", "scale": {"domain": [-19, 26], "range": [165, 35], "nice": false, "zero": false}, "axis": {"orient": "left", "offset": -35, "values": [-10,0,10,20], "labelExpr": "datum.value + ''", "labelFontSize": 10, "labelColor": "#222222", "labelPadding": 2, "tickSize": 4, "domain": false, "title": null}},
      "detail": {"field": "s", "type": "nominal"}}},
    {"data": {"values": [{}]}, "mark": {"type": "rule", "color": "#f01010", "strokeWidth": 1}, "encoding": {"x": {"datum": -0.64}, "x2": {"datum": 7.64}, "y": {"datum": 0}}},
    {"data": {"values": [{}]}, "mark": {"type": "rect", "fill": "white", "fillOpacity": 0, "stroke": "#333333", "strokeWidth": 1}, "encoding": {"x": {"datum": -0.64}, "x2": {"datum": 7.64}, "y": {"datum": -19}, "y2": {"datum": 26}}}
   ]}
  ],
  "resolve": {"scale": {"x": "independent", "y": "independent"}}
 },
 {"width": 269, "height": 245,
  "title": {"text": "Feeding breast", "fontSize": 22, "fontWeight": "bold", "font": "Liberation Sans", "anchor": "middle", "frame": "group", "baseline": "alphabetic", "offset": 18, "dy": 22, "color": "#000000"},
  "layer": [
   {"data": {"name": "fatF"}, "mark": {"type": "line", "color": "#1f1fe8", "strokeWidth": 1.3, "opacity": 0.9},
    "encoding": {
     "x": {"field": "t", "type": "quantitative", "scale": {"domain": [-0.6, 7.6], "nice": false, "zero": false}, "axis": {"values": [0,1,2,3,4,5,6,7], "labels": false, "tickSize": 5, "domain": false, "title": null}},
     "y": {"field": "v", "type": "quantitative", "scale": {"domain": [-78, 808], "nice": false, "zero": false}, "axis": null},
     "detail": {"field": "s", "type": "nominal"}}},
   {"data": {"values": [{}]}, "mark": {"type": "rule", "color": "#f01010", "strokeWidth": 1}, "encoding": {"y": {"datum": 0, "axis": null}}}
  ]
 },
 {"width": 268, "height": 245,
  "layer": [
   {"layer": [
    {"data": {"name": "celN"}, "mark": {"type": "line", "color": "#1f1fe8", "strokeWidth": 1.3, "opacity": 0.9},
     "encoding": {
      "x": {"field": "t", "type": "quantitative", "scale": {"domain": [-0.6, 7.6], "nice": false, "zero": false}, "axis": {"values": [0,1,2,3,4,5,6,7], "labels": false, "tickSize": 5, "domain": false, "title": null}},
      "y": {"field": "v", "type": "quantitative", "scale": {"domain": [-136, 1237], "nice": false, "zero": false}, "axis": {"values": [0,200,400,600,800,1000,1200], "labelExpr": "datum.value + ''", "labelFontSize": 18, "tickSize": 4, "labelPadding": 12, "domain": false, "title": ["Percentage change", "in cells (/mL)"], "titleFontSize": 21, "titleFontWeight": "normal", "titleAngle": -90, "titleX": -102, "titleY": 122, "titleAlign": "center", "titleBaseline": "middle", "titleLineHeight": 20}},
      "detail": {"field": "s", "type": "nominal"}}},
    {"data": {"values": [{}]}, "mark": {"type": "rule", "color": "#f01010", "strokeWidth": 1}, "encoding": {"y": {"datum": 0}}}
   ]},
   {"layer": [
    {"data": {"name": "celN"}, "mark": {"type": "line", "color": "#1f1fe8", "strokeWidth": 1.1, "opacity": 0.85},
     "encoding": {
      "x": {"field": "t", "type": "quantitative", "scale": {"domain": [-0.64, 7.64], "range": [36.7, 177.7], "nice": false, "zero": false}, "axis": {"orient": "bottom", "offset": -80.6, "values": [0,1,2,3,4,5,6,7], "labels": false, "tickSize": 4, "domain": false, "title": null}},
      "y": {"field": "v", "type": "quantitative", "scale": {"domain": [-23, 18], "range": [164.4, 32.4], "nice": false, "zero": false}, "axis": {"orient": "left", "offset": -36.7, "values": [-20,-10,0,10], "labelExpr": "datum.value + ''", "labelFontSize": 10, "labelColor": "#222222", "labelPadding": 2, "tickSize": 4, "domain": false, "title": null}},
      "detail": {"field": "s", "type": "nominal"}}},
    {"data": {"values": [{}]}, "mark": {"type": "rule", "color": "#f01010", "strokeWidth": 1}, "encoding": {"x": {"datum": -0.64}, "x2": {"datum": 7.64}, "y": {"datum": 0}}},
    {"data": {"values": [{}]}, "mark": {"type": "rect", "fill": "white", "fillOpacity": 0, "stroke": "#333333", "strokeWidth": 1}, "encoding": {"x": {"datum": -0.64}, "x2": {"datum": 7.64}, "y": {"datum": -23}, "y2": {"datum": 18}}}
   ]}
  ],
  "resolve": {"scale": {"x": "independent", "y": "independent"}}
 },
 {"width": 269, "height": 245,
  "layer": [
   {"data": {"name": "celF"}, "mark": {"type": "line", "color": "#1f1fe8", "strokeWidth": 1.3, "opacity": 0.9},
    "encoding": {
     "x": {"field": "t", "type": "quantitative", "scale": {"domain": [-0.6, 7.6], "nice": false, "zero": false}, "axis": {"values": [0,1,2,3,4,5,6,7], "labels": false, "tickSize": 5, "domain": false, "title": null}},
     "y": {"field": "v", "type": "quantitative", "scale": {"domain": [-136, 1237], "nice": false, "zero": false}, "axis": null},
     "detail": {"field": "s", "type": "nominal"}}},
   {"data": {"values": [{}]}, "mark": {"type": "rule", "color": "#f01010", "strokeWidth": 1}, "encoding": {"y": {"datum": 0, "axis": null}}}
  ]
 },
 {"width": 268, "height": 245,
  "layer": [
   {"data": {"name": "viaN"}, "mark": {"type": "line", "color": "#1f1fe8", "strokeWidth": 1.3, "opacity": 0.9},
    "encoding": {
     "x": {"field": "t", "type": "quantitative", "scale": {"domain": [-0.6, 7.6], "nice": false, "zero": false}, "axis": {"values": [0,1,2,3,4,5,6,7], "labels": false, "tickSize": 5, "domain": false, "title": null}},
     "y": {"field": "v", "type": "quantitative", "scale": {"domain": [-8.3, 4.71], "nice": false, "zero": false}, "axis": {"values": [-8,-6,-4,-2,0,2,4], "labelExpr": "datum.value + ''", "labelFontSize": 18, "tickSize": 4, "labelPadding": 12, "domain": false, "title": ["Percentage change", "in cell viability (%)"], "titleFontSize": 21, "titleFontWeight": "normal", "titleAngle": -90, "titleX": -102, "titleY": 117, "titleAlign": "center", "titleBaseline": "middle", "titleLineHeight": 20}},
     "detail": {"field": "s", "type": "nominal"}}},
   {"data": {"values": [{}]}, "mark": {"type": "rule", "color": "#f01010", "strokeWidth": 1}, "encoding": {"y": {"datum": 0}}}
  ]
 },
 {"width": 269, "height": 245,
  "layer": [
   {"data": {"name": "viaF"}, "mark": {"type": "line", "color": "#1f1fe8", "strokeWidth": 1.3, "opacity": 0.9},
    "encoding": {
     "x": {"field": "t", "type": "quantitative", "scale": {"domain": [-0.6, 7.6], "nice": false, "zero": false}, "axis": {"values": [0,1,2,3,4,5,6,7], "labels": false, "tickSize": 5, "domain": false, "title": null}},
     "y": {"field": "v", "type": "quantitative", "scale": {"domain": [-8.3, 4.71], "nice": false, "zero": false}, "axis": null},
     "detail": {"field": "s", "type": "nominal"}}},
   {"data": {"values": [{}]}, "mark": {"type": "rule", "color": "#f01010", "strokeWidth": 1}, "encoding": {"y": {"datum": 0, "axis": null}}}
  ]
 },
 {"width": 268, "height": 245,
  "layer": [
   {"data": {"name": "proN"}, "mark": {"type": "line", "color": "#1f1fe8", "strokeWidth": 1.3, "opacity": 0.9},
    "encoding": {
     "x": {"field": "t", "type": "quantitative", "scale": {"domain": [-0.6, 7.6], "nice": false, "zero": false}, "axis": {"values": [0,1,2,3,4,5,6,7], "labelExpr": "['pre','post','30','60','90','120','150','180'][datum.value]", "labelFontSize": 16, "labelPadding": 12, "tickSize": 5, "domain": false, "title": null}},
     "y": {"field": "v", "type": "quantitative", "scale": {"domain": [-94.7, 67.9], "nice": false, "zero": false}, "axis": {"values": [-50,0,50], "labelExpr": "datum.value + ''", "labelFontSize": 18, "tickSize": 4, "labelPadding": 12, "domain": false, "title": ["Percentage change", "In protein (g/L)"], "titleFontSize": 21, "titleFontWeight": "normal", "titleAngle": -90, "titleX": -102, "titleY": 139, "titleAlign": "center", "titleBaseline": "middle", "titleLineHeight": 20}},
     "detail": {"field": "s", "type": "nominal"}}},
   {"data": {"values": [{}]}, "mark": {"type": "rule", "color": "#f01010", "strokeWidth": 1}, "encoding": {"y": {"datum": 0}}}
  ]
 },
 {"width": 269, "height": 245,
  "layer": [
   {"data": {"name": "proF"}, "mark": {"type": "line", "color": "#1f1fe8", "strokeWidth": 1.3, "opacity": 0.9},
    "encoding": {
     "x": {"field": "t", "type": "quantitative", "scale": {"domain": [-0.6, 7.6], "nice": false, "zero": false}, "axis": {"values": [0,1,2,3,4,5,6,7], "labelExpr": "['pre','post','30','60','90','120','150','180'][datum.value]", "labelFontSize": 16, "labelPadding": 12, "tickSize": 5, "domain": false, "title": null}},
     "y": {"field": "v", "type": "quantitative", "scale": {"domain": [-94.7, 67.9], "nice": false, "zero": false}, "axis": null},
     "detail": {"field": "s", "type": "nominal"}}},
   {"data": {"values": [{}]}, "mark": {"type": "rule", "color": "#f01010", "strokeWidth": 1}, "encoding": {"y": {"datum": 0, "axis": null}}}
  ]
 }
]
}
